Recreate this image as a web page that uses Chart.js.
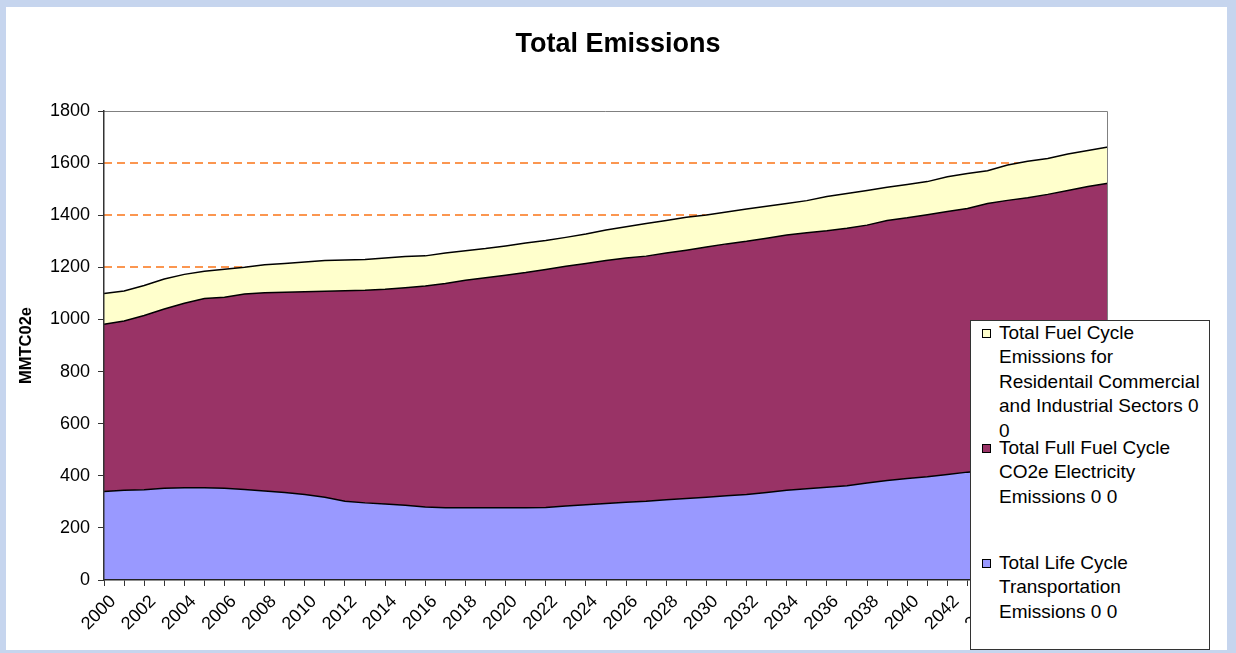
<!DOCTYPE html>
<html>
<head>
<meta charset="utf-8">
<title>Total Emissions</title>
<script src="https://cdn.jsdelivr.net/npm/chart.js@4.4.1/dist/chart.umd.min.js"></script>
<style>
  html, body { margin: 0; padding: 0; background: #c6d5ee; }
  #wrap { position: relative; width: 1236px; height: 653px; overflow: hidden; }
  #legend {
    position: absolute; left: 970px; top: 320px; width: 238px; height: 328px;
    background: #fff; border: 1px solid #333;
    font-family: 'Liberation Sans', Arial, sans-serif; font-size: 19px; line-height: 24.4px; color: #000;
  }
  .item { position: absolute; left: 28px; white-space: nowrap; }
  .box { position: absolute; left: -17px; top: 8px; width: 7px; height: 7px; border: 1px solid #000; }
</style>
</head>
<body>
<div id="wrap">
  <canvas id="chart" width="1236" height="653"></canvas>
  <div id="legend"></div>
</div>
<script>
const years = ['2000','2001','2002','2003','2004','2005','2006','2007','2008','2009',
  '2010','2011','2012','2013','2014','2015','2016','2017','2018','2019',
  '2020','2021','2022','2023','2024','2025','2026','2027','2028','2029',
  '2030','2031','2032','2033','2034','2035','2036','2037','2038','2039',
  '2040','2041','2042','2043','2044','2045','2046','2047','2048','2049','2050']

// labels shown under the axis (every other year)
const yearLabels = ['2000','2002','2004','2006','2008','2010','2012','2014','2016','2018',
  '2020','2022','2024','2026','2028','2030','2032','2034','2036','2038',
  '2040','2042','2044','2046','2048','2050']

// MMTC02e, stacked bottom to top
const transport = [340, 344, 346, 352, 354, 354, 352, 347, 342, 336,
  328, 318, 302, 296, 292, 287, 280, 277, 277, 277,
  277, 277, 278, 284, 289, 294, 298, 302, 308, 313,
  318, 323, 328, 336, 344, 350, 356, 362, 372, 382,
  390, 396, 405, 414, 420, 428, 436, 444, 452, 460, 468]

const electricity = [642, 650, 669, 688, 708, 726, 733, 751, 760, 768,
  778, 790, 808, 816, 824, 835, 848, 861, 873, 883,
  893, 903, 914, 920, 926, 932, 938, 941, 947, 953,
  960, 967, 972, 976, 980, 983, 984, 988, 990, 998,
  1000, 1006, 1009, 1012, 1025, 1029, 1031, 1036, 1043, 1050, 1055]

const fuelCycle = [118, 115, 115, 115, 111, 105, 108, 102, 108, 111,
  114, 118, 118, 118, 120, 120, 116, 117, 114, 112,
  112, 113, 111, 111, 113, 117, 120, 125, 125, 126,
  123, 122, 124, 122, 121, 123, 132, 133, 133, 127,
  128, 127, 134, 134, 126, 136, 140, 138, 140, 138, 139]

const yTicks = [0, 200, 400, 600, 800, 1000, 1200, 1400, 1600, 1800]

// legend text, wrapped the way the original legend wraps it
const fuelCycleLines = ['Total Fuel Cycle', 'Emissions for', 'Residentail Commercial', 'and Industrial Sectors 0', '0']
const electricityLines = ['Total Full Fuel Cycle', 'CO2e Electricity', 'Emissions 0 0']
const transportLines = ['Total Life Cycle', 'Transportation', 'Emissions 0 0']

const FONT = "'Liberation Sans', Arial, sans-serif"

const panelBg = {
  id: 'panelBg',
  beforeDraw(chart) {
    const c = chart.ctx
    c.save()
    c.fillStyle = '#ffffff'
    c.fillRect(6, 7, 1221, 643)
    c.restore()
  }
}

// orange dashed gridlines, placed with the y scale, under the areas
const dashedGrid = {
  id: 'dashedGrid',
  beforeDatasetsDraw(chart) {
    const { ctx, chartArea: a, scales } = chart
    ctx.save()
    ctx.strokeStyle = '#fb9650'
    ctx.lineWidth = 2
    ctx.setLineDash([8, 5])
    yTicks.slice(1, -1).forEach(v => {
      const y = Math.round(scales.y.getPixelForValue(v))
      ctx.beginPath()
      ctx.moveTo(a.left, y)
      ctx.lineTo(a.right, y)
      ctx.stroke()
    })
    ctx.restore()
  }
}

// grey frame on top and right of the plot area
const plotFrame = {
  id: 'plotFrame',
  afterDatasetsDraw(chart) {
    const { ctx, chartArea: a } = chart
    ctx.save()
    ctx.strokeStyle = '#808080'
    ctx.lineWidth = 1
    ctx.beginPath()
    ctx.moveTo(a.left, a.top + 0.5)
    ctx.lineTo(a.right - 0.5, a.top + 0.5)
    ctx.lineTo(a.right - 0.5, a.bottom)
    ctx.stroke()
    ctx.restore()
  }
}

const data = {
  labels: years,
  datasets: [
    {
      label: transportLines.join(' '),
      data: transport,
      backgroundColor: '#9999ff',
      borderColor: '#000',
      borderWidth: 1.5,
      fill: 'origin',
      pointRadius: 0,
      tension: 0
    },
    {
      label: electricityLines.join(' '),
      data: electricity,
      backgroundColor: '#993366',
      borderColor: '#000',
      borderWidth: 1.5,
      fill: '-1',
      pointRadius: 0,
      tension: 0
    },
    {
      label: fuelCycleLines.join(' '),
      data: fuelCycle,
      backgroundColor: '#ffffcc',
      borderColor: '#000',
      borderWidth: 1.5,
      fill: '-1',
      pointRadius: 0,
      tension: 0
    }
  ]
}

const options = {
  responsive: false,
  animation: false,
  layout: { padding: 0 },
  plugins: {
    legend: { display: false },
    tooltip: { enabled: false },
    title: {
      display: true,
      text: 'Total Emissions',
      color: '#000',
      font: { family: FONT, size: 27, weight: 'bold' },
      padding: { top: 28, bottom: 50.6 }
    }
  },
  scales: {
    x: {
      type: 'category',
      grid: { drawOnChartArea: false, tickLength: 6, tickColor: '#333', tickWidth: 1 },
      border: { color: '#222', width: 1.5, z: 1 },
      ticks: {
        autoSkip: false,
        maxRotation: 45,
        minRotation: 45,
        padding: 5,
        labelOffset: 9,
        color: '#000',
        font: { family: FONT, size: 18 },
        callback: (v, i) => yearLabels.includes(years[i]) ? years[i] : ''
      },
      afterFit: s => { s.height = 73 }
    },
    y: {
      stacked: true,
      min: 0,
      max: 1800,
      afterBuildTicks: s => { s.ticks = yTicks.map(v => ({ value: v })) },
      grid: {
        drawOnChartArea: false,
        tickLength: 6,
        tickColor: '#333',
        tickWidth: 1
      },
      border: { color: '#333', width: 1.5, z: 1 },
      ticks: {
        padding: 8,
        color: '#000',
        font: { family: FONT, size: 18 },
        callback: v => String(v)
      },
      title: {
        display: true,
        text: 'MMTC02e',
        color: '#000',
        font: { family: FONT, size: 16.5, weight: 'bold' },
        padding: { top: 17, bottom: 0 }
      },
      afterFit: s => { s.width = 104 }
    },
    // empty axis that only reserves the space right of the plot
    spacer: {
      type: 'linear',
      position: 'right',
      grid: { display: false },
      border: { display: false },
      ticks: { display: false },
      afterFit: s => { s.width = 128 }
    }
  }
}

new Chart(document.getElementById('chart'), {
  type: 'line',
  data,
  options,
  plugins: [panelBg, dashedGrid, plotFrame]
})

// legend box, same order as the original (top series first)
const legend = document.getElementById('legend')
const entries = [
  { lines: fuelCycleLines, color: data.datasets[2].backgroundColor, top: 0 },
  { lines: electricityLines, color: data.datasets[1].backgroundColor, top: 115 },
  { lines: transportLines, color: data.datasets[0].backgroundColor, top: 230 }
]
entries.forEach(e => {
  const item = document.createElement('div')
  item.className = 'item'
  item.style.top = e.top + 'px'
  const box = document.createElement('span')
  box.className = 'box'
  box.style.background = e.color
  item.appendChild(box)
  e.lines.forEach(t => {
    const line = document.createElement('div')
    line.textContent = t
    item.appendChild(line)
  })
  legend.appendChild(item)
})
</script>
</body>
</html>
